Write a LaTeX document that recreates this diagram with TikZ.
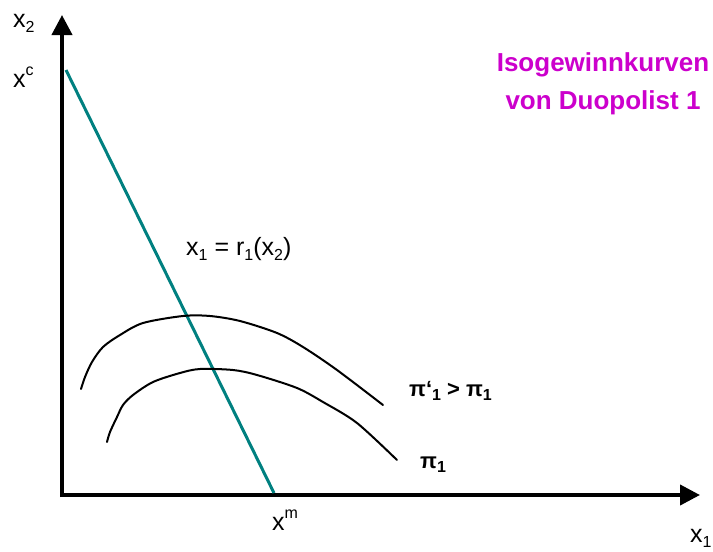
\documentclass[tikz,border=0pt]{standalone}
\usepackage{fontspec}
\setmainfont{Liberation Sans}
\usetikzlibrary{arrows.meta}
\definecolor{tealline}{RGB}{0,128,128}
\definecolor{magentatxt}{RGB}{204,0,204}
\newcommand\lsub[1]{\raisebox{-0.2em}{\fontsize{16}{16}\selectfont #1}}
\newcommand\lsup[1]{\raisebox{0.45em}{\fontsize{16}{16}\selectfont #1}}
\tikzset{
  axis/.style={line width=4pt,-{Triangle[length=20pt,width=20pt]}},
  resp/.style={line width=3pt,draw=tealline},
  iso/.style={line width=2pt,smooth,tension=0.5,line cap=round},
  lbl/.style={font=\fontsize{25}{27}\selectfont,inner sep=0pt,anchor=base west},
  blbl/.style={font=\bfseries\fontsize{22}{24}\selectfont,inner sep=0pt,anchor=base west},
  title/.style={font=\bfseries\fontsize{26}{38}\selectfont,text=magentatxt,align=center,inner sep=0pt}
}
\begin{document}
\begin{tikzpicture}[x=1pt,y=-1pt]
\useasboundingbox (0,0) rectangle (713,552);
\coordinate (O) at (62,495);
\coordinate (Ytip) at (62,15);
\coordinate (Xtip) at (700,495);
\coordinate (Ostart) at (62,497);
\coordinate (Oleft) at (60,495);
\draw[axis] (Ostart) -- (Ytip);
\draw[axis] (Oleft) -- (Xtip);
\coordinate (Rtop) at (66,70);
\coordinate (Rbot) at (274,493);
\draw[resp] (Rtop) -- (Rbot);
\draw[iso] plot coordinates {(81,389) (85,377) (92,362) (103,347) (120,335) (143,323) (183,316) (210,316) (240,321) (277,333) (303,347) (337,370) (383,405)};
\draw[iso] plot coordinates {(107,442) (110,432) (117,417) (123,405) (133,395) (153,382) (180,373) (200,369) (233,370) (257,375) (297,388) (323,402) (357,423) (397,460)};
\node[lbl] (x2) at (13,27) {x\lsub{2}};
\node[lbl] (xc) at (13,87) {x\lsup{c}};
\node[lbl] (xm) at (272,530) {x\lsup{m}};
\node[lbl] (x1) at (690,542) {x\lsub{1}};
\node[lbl] (r1) at (186,255) {x\lsub{1} = r\lsub{1}(x\lsub{2})};
\node[blbl] (pp) at (409,396) {π‘\lsub{1} > π\lsub{1}};
\node[blbl] (p1) at (420,468) {π\lsub{1}};
\node[title,anchor=north] (t) at (603,52) {Isogewinnkurven\\von Duopolist 1};
\end{tikzpicture}
\end{document}
